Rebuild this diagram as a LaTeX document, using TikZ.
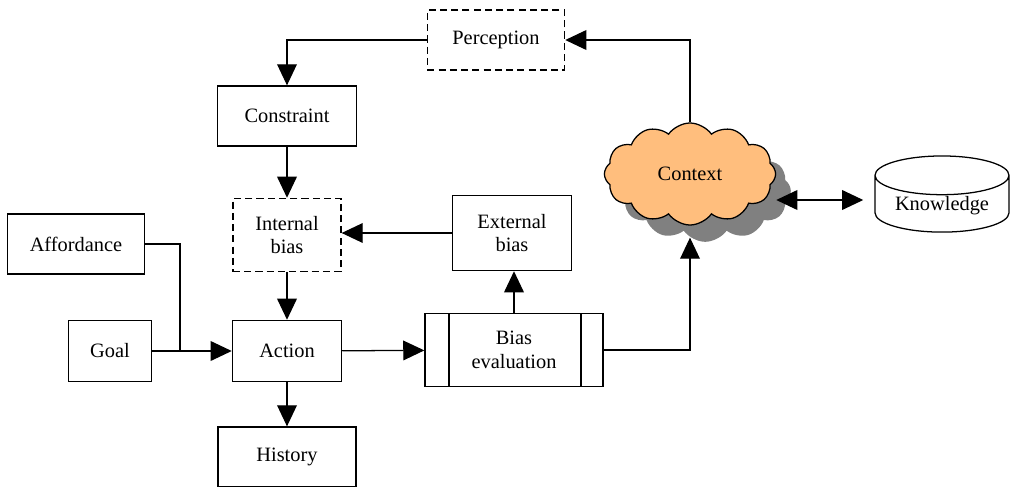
\documentclass[tikz,border=0pt]{standalone}
\usepackage{fontspec}
\setmainfont{Liberation Serif}
\usetikzlibrary{arrows.meta,calc,shapes.symbols,shapes.geometric,shadows}
\definecolor{cloudfill}{RGB}{255,190,125}
\definecolor{shadowgray}{RGB}{128,128,128}

\begin{document}
\begin{tikzpicture}[x=0.025cm,y=-0.025cm,
    font=\fontsize{14.5}{17}\selectfont,
    box/.style={draw, line width=0.9pt, inner sep=0pt, align=center},
    dbox/.style={box, dashed, dash pattern=on 5pt off 3pt},
    process/.style={box, path picture={
        \draw[line width=0.9pt] ([xshift=0.6cm]path picture bounding box.north west)
            -- ([xshift=0.6cm]path picture bounding box.south west);
        \draw[line width=0.9pt] ([xshift=-0.55cm]path picture bounding box.north east)
            -- ([xshift=-0.55cm]path picture bounding box.south east);}},
    arr/.style={line width=0.9pt, -{Triangle[length=15pt,width=14pt]}},
    dblarr/.style={line width=0.9pt, {Triangle[length=15pt,width=14pt]}-{Triangle[length=15pt,width=14pt]}},
    ln/.style={line width=0.9pt}]
\useasboundingbox (0,0) rectangle (1015,487);

    % upper chain
    \node[dbox, minimum width=3.43cm, minimum height=1.5cm] (perc) at (496,40) {Perception};
    \node[box, minimum width=3.48cm, minimum height=1.5cm] (cons) at (287,116) {Constraint};
    \node[dbox, minimum width=2.7cm, minimum height=1.83cm] (ibias) at (287,235) {Internal\\bias};
    \node[box, minimum width=2.98cm, minimum height=1.88cm] (ebias) at (512,233) {External\\bias};

    % left inputs
    \node[box, minimum width=3.43cm, minimum height=1.5cm] (aff) at (76,244) {Affordance};
    \node[box, minimum width=2.08cm, minimum height=1.53cm] (goal) at (110,351) {Goal};
    \coordinate (join) at (180,351);

    % action row
    \node[box, minimum width=2.73cm, minimum height=1.53cm] (act) at (287,351) {Action};
    \node[process, minimum width=4.45cm, minimum height=1.83cm] (beval) at (514,350) {Bias\\evaluation};
    \node[box, minimum width=3.45cm, minimum height=1.5cm] (hist) at (287,457) {History};

    % context and knowledge
    \node[cloud, cloud puffs=12, cloud puff arc=110, cloud ignores aspect, draw, line width=0.9pt,
        fill=cloudfill, minimum width=4.28cm, minimum height=2.55cm, inner sep=0pt,
        general shadow={fill=shadowgray, shadow xshift=0.38cm, shadow yshift=-0.42cm}]
        (ctx) at (690,174) {Context};
    \node[cylinder, shape border rotate=90, draw, line width=0.9pt, aspect=0.4, inner sep=1pt,
        minimum width=3.35cm, minimum height=1.55cm] (know) at (942,206) {Knowledge};

    % connectors
    \draw[arr] (perc.west) -| (cons.north);
    \draw[arr] (ctx.north) |- (perc.east);
    \draw[arr] (cons) -- (ibias);
    \draw[arr] (ebias.west) -- (ebias.west -| ibias.east);
    \draw[arr] (ibias) -- (act);
    \draw[ln] (aff.east) -| (join);
    \draw[arr] (goal) -- (act);
    \draw[arr] (act) -- (hist);
    \draw[arr] (act) -- (beval);
    \draw[arr] (beval.north) -- (beval.north |- ebias.south);
    \draw[arr] (beval.east) -| ($(ctx.south)+(0,12)$);
    \draw[dblarr] ($(ctx.east)+(0,26)$) -- ($(ctx.east)+(87,26)$);
\end{tikzpicture}
\end{document}
